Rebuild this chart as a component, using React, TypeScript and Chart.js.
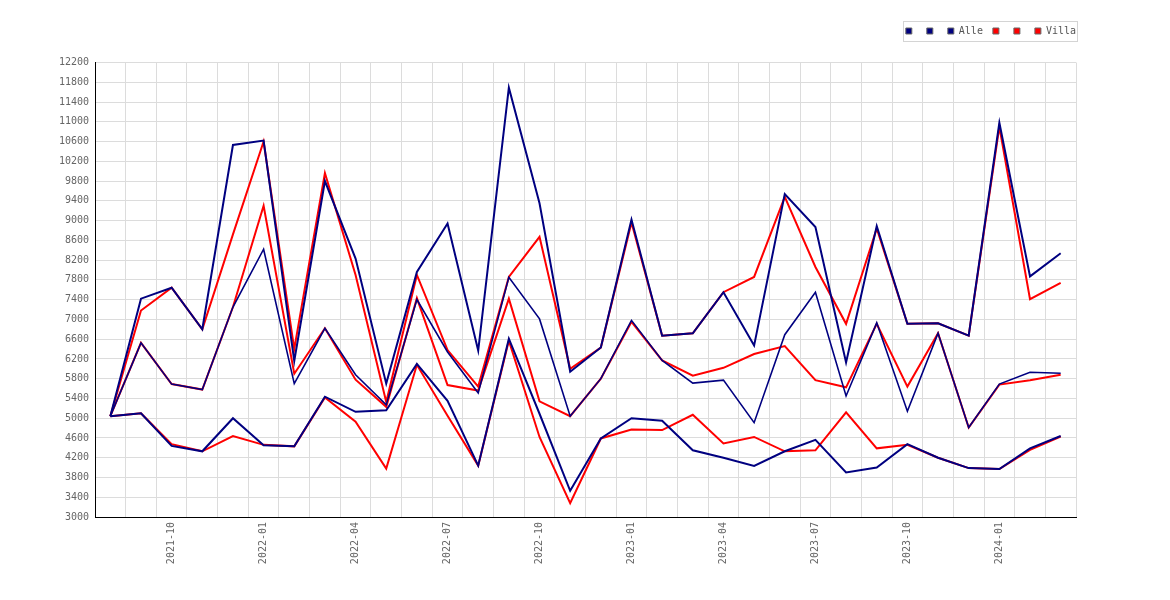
import { useEffect, useRef } from 'react';
import { Chart, registerables } from 'chart.js';

Chart.register(...registerables);

const months = [
  '2021-08', '2021-09', '2021-10', '2021-11', '2021-12',
  '2022-01', '2022-02', '2022-03', '2022-04', '2022-05', '2022-06',
  '2022-07', '2022-08', '2022-09', '2022-10', '2022-11', '2022-12',
  '2023-01', '2023-02', '2023-03', '2023-04', '2023-05', '2023-06',
  '2023-07', '2023-08', '2023-09', '2023-10', '2023-11', '2023-12',
  '2024-01', '2024-02', '2024-03',
];
// only these months get a label on the x axis
const labelledMonths = ['01', '04', '07', '10'];

const alleHigh = [
  5040, 7420, 7640, 6800, 10530, 10620, 6160, 9800, 8230, 5700, 7960,
  8940, 6370, 11690, 9350, 5940, 6430, 9020, 6670, 6720, 7550, 6470,
  9535, 8870, 6130, 8890, 6910, 6920, 6670, 10980, 7870, 8340,
];
const alleMid = [
  5040, 6525, 5690, 5580, 7250, 8420, 5700, 6820, 5880, 5270, 7400,
  6340, 5510, 7850, 7010, 5040, 5800, 6980, 6170, 5710, 5770, 4910,
  6690, 7550, 5450, 6930, 5140, 6720, 4810, 5690, 5930, 5910,
];
const alleLow = [
  5040, 5100, 4440, 4330, 5000, 4450, 4430, 5435, 5130, 5160, 6100,
  5350, 4040, 6610, 5090, 3530, 4590, 5000, 4950, 4350, 4200, 4035,
  4330, 4560, 3900, 4000, 4475, 4200, 3990, 3970, 4390, 4640,
];
const villaHigh = [
  5040, 7180, 7640, 6800, 8720, 10600, 6400, 9960, 7900, 5330, 7900,
  6380, 5640, 7860, 8670, 6000, 6430, 8960, 6670, 6720, 7550, 7860,
  9480, 8060, 6910, 8840, 6910, 6920, 6670, 10900, 7410, 7740,
];
const villaMid = [
  5040, 6525, 5690, 5580, 7250, 9300, 5900, 6820, 5780, 5230, 7430,
  5670, 5560, 7420, 5340, 5040, 5800, 6950, 6170, 5860, 6020, 6300,
  6460, 5770, 5625, 6910, 5640, 6720, 4810, 5680, 5770, 5880,
];
const villaLow = [
  5040, 5100, 4475, 4330, 4640, 4460, 4430, 5420, 4930, 3980, 6080,
  5050, 4040, 6570, 4620, 3280, 4590, 4770, 4760, 5070, 4490, 4620,
  4330, 4350, 5120, 4390, 4460, 4200, 3990, 3970, 4360, 4630,
];

const NAVY = '#000080';
const RED = '#ff0000';
const FONT = 'DejaVu Sans Mono';
const LEGEND_SHIFT = 10;

// push the legend flush to the right edge and draw the frame round it
const legendFrame = {
  id: 'legendFrame',
  afterUpdate(chart: any) {
    const lg = chart.legend;
    if (!lg) return;
    lg.left += LEGEND_SHIFT;
    lg.right += LEGEND_SHIFT;
    (lg.legendHitBoxes || []).forEach((h: any) => {
      h.left += LEGEND_SHIFT;
    });
  },
  afterDraw(chart: any) {
    const boxes = chart.legend?.legendHitBoxes;
    if (!boxes || !boxes.length) return;
    const left = Math.min(...boxes.map((b: any) => b.left)) - 3;
    const right = Math.max(...boxes.map((b: any) => b.left + b.width)) + 1;
    const top = boxes[0].top - 5;
    const ctx = chart.ctx;
    ctx.save();
    ctx.strokeStyle = '#d4d4d4';
    ctx.lineWidth = 1;
    ctx.strokeRect(Math.round(left) + 0.5, Math.round(top) + 0.5, Math.round(right - left), 20);
    ctx.restore();
  },
};

function line(label: string, data: number[], color: string, width: number) {
  return {
    label,
    data,
    borderColor: color,
    backgroundColor: color,
    borderWidth: width,
    pointRadius: 0,
    pointHoverRadius: 0,
    tension: 0,
    fill: false,
  };
}

export default function App() {
  const canvasRef = useRef<HTMLCanvasElement | null>(null);

  useEffect(() => {
    const canvas = canvasRef.current;
    if (!canvas) return;

    const chart = new Chart(canvas, {
      type: 'line',
      data: {
        labels: months,
        datasets: [
          line('', alleHigh, NAVY, 2),
          line('', alleMid, NAVY, 1.6),
          line('Alle', alleLow, NAVY, 2),
          line('', villaHigh, RED, 2),
          line('', villaMid, RED, 2),
          line('Villa', villaLow, RED, 2),
        ],
      },
      options: {
        animation: false,
        responsive: true,
        maintainAspectRatio: false,
        layout: { padding: { top: 8, right: 86, bottom: 0, left: 0 } },
        font: { family: FONT, size: 10 },
        plugins: {
          tooltip: { enabled: false },
          // empty title used only as a spacer under the legend
          title: {
            display: true,
            text: '',
            weight: 500,
            padding: { top: 0, bottom: 15.5 },
            font: { size: 1, lineHeight: 1 },
          },
          legend: {
            position: 'top',
            align: 'end',
            labels: {
              boxWidth: 6,
              boxHeight: 6,
              padding: 10,
              color: '#555',
              font: { family: FONT, size: 10 },
              generateLabels: (c: any) =>
                c.data.datasets.map((ds: any, i: number) => ({
                  text: ds.label,
                  fillStyle: ds.borderColor,
                  strokeStyle: '#666',
                  lineWidth: 1,
                  fontColor: '#555',
                  hidden: false,
                  datasetIndex: i,
                })),
            },
          },
        },
        scales: {
          x: {
            type: 'category',
            offset: true,
            grid: { offset: true, color: '#dcdcdc', drawTicks: false },
            border: { color: '#000', width: 1 },
            ticks: {
              autoSkip: false,
              minRotation: 90,
              maxRotation: 90,
              padding: 5,
              color: '#666',
              font: { family: FONT, size: 10 },
              callback: (_v: any, i: number) =>
                labelledMonths.includes(months[i].slice(5)) ? months[i] : '',
            },
            afterFit: (scale: any) => {
              scale.height = 75;
            },
          },
          y: {
            min: 3000,
            max: 12200,
            grid: { color: '#dcdcdc', drawTicks: false },
            border: { color: '#000', width: 1 },
            ticks: {
              stepSize: 400,
              padding: 6,
              color: '#666',
              font: { family: FONT, size: 10 },
              callback: (v: any) => String(v),
            },
            afterFit: (scale: any) => {
              scale.width = 87;
            },
          },
        },
      },
      plugins: [legendFrame],
    } as any);

    return () => chart.destroy();
  }, []);

  return (
    <div style={{ position: 'relative', width: 1154, height: 584 }}>
      <canvas ref={canvasRef} />
    </div>
  );
}
